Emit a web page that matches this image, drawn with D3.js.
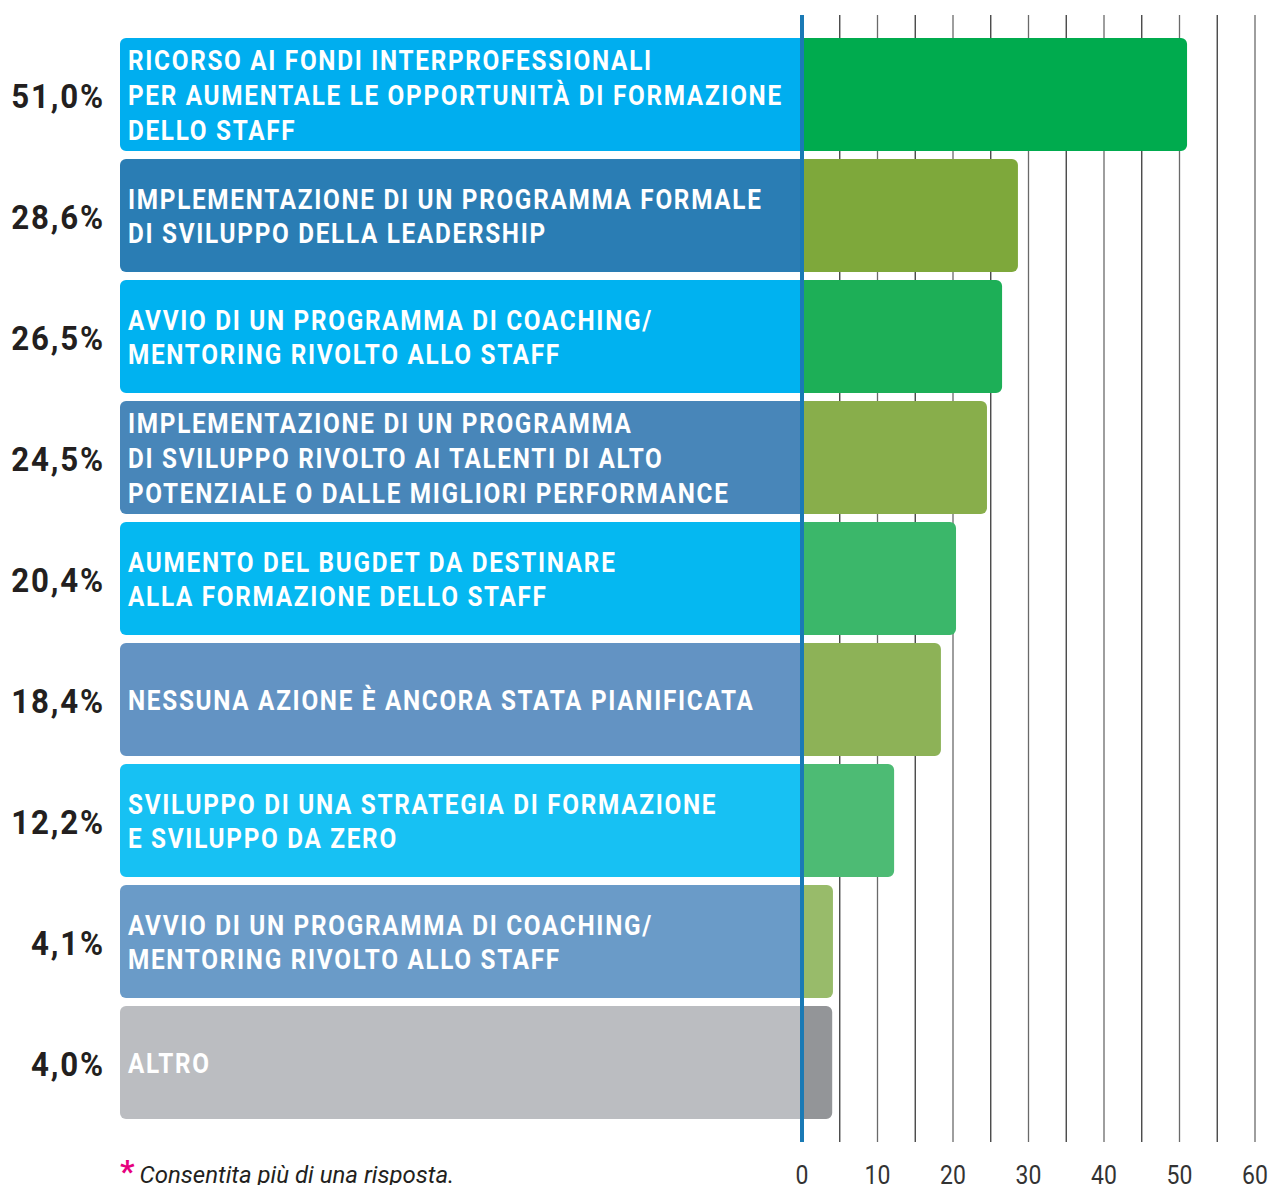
<!DOCTYPE html>
<html>
<head>
<meta charset="utf-8">
<script src="https://cdn.jsdelivr.net/npm/d3@7"></script>
<style>
  html, body { margin: 0; padding: 0; background: #fff; }
  svg { display: block; }
</style>
</head>
<body>
<svg id="chart" width="1268" height="1185"></svg>
<script>
const categories = [
  ['RICORSO AI FONDI INTERPROFESSIONALI', 'PER AUMENTALE LE OPPORTUNITÀ DI FORMAZIONE', 'DELLO STAFF'],
  ['IMPLEMENTAZIONE DI UN PROGRAMMA FORMALE', 'DI SVILUPPO DELLA LEADERSHIP'],
  ['AVVIO DI UN PROGRAMMA DI COACHING/', 'MENTORING RIVOLTO ALLO STAFF'],
  ['IMPLEMENTAZIONE DI UN PROGRAMMA', 'DI SVILUPPO RIVOLTO AI TALENTI DI ALTO', 'POTENZIALE O DALLE MIGLIORI PERFORMANCE'],
  ['AUMENTO DEL BUGDET DA DESTINARE', 'ALLA FORMAZIONE DELLO STAFF'],
  ['NESSUNA AZIONE È ANCORA STATA PIANIFICATA'],
  ['SVILUPPO DI UNA STRATEGIA DI FORMAZIONE', 'E SVILUPPO DA ZERO'],
  ['AVVIO DI UN PROGRAMMA DI COACHING/', 'MENTORING RIVOLTO ALLO STAFF'],
  ['ALTRO']
];
const values = [51.0, 28.6, 26.5, 24.5, 20.4, 18.4, 12.2, 4.1, 4.0];
const boxColors = ['#00aeef', '#2a7db4', '#00b2f0', '#4886b9', '#05b8f1', '#6393c3', '#17c1f3', '#6a9bc8', '#bbbdc1'];
const barColors = ['#00ab4e', '#7ea83b', '#1daf57', '#88ae4b', '#3bb76a', '#8db257', '#4dbb74', '#98bb6a', '#939598'];
const xTicks = [0, 10, 20, 30, 40, 50, 60];
const gridTicks = d3.range(5, 61, 5);
const note = 'Consentita più di una risposta.';

const FONT = 'Roboto, "Noto Sans", sans-serif';
const BOX_LEFT = 120;
const RADIUS = 6;

const svg = d3.select('#chart');

const x = d3.scaleLinear().domain([0, 60]).range([802, 1255]);
const y = d3.scaleBand()
  .domain(d3.range(values.length))
  .range([34, 1123])
  .paddingInner(0.066)
  .paddingOuter(0.033);

// gridlines
svg.append('g')
  .selectAll('line')
  .data(gridTicks)
  .join('line')
  .attr('x1', d => x(d)).attr('x2', d => x(d))
  .attr('y1', 15).attr('y2', 1142)
  .attr('stroke', (d, i) => i % 2 === 0 ? '#3a3a3a' : '#6a6a6a')
  .attr('stroke-width', 1.3);

// rounded on one side only
function leftRounded(x0, y0, w, h, r) {
  const p = d3.path();
  p.moveTo(x0 + w, y0);
  p.lineTo(x0 + r, y0);
  p.arcTo(x0, y0, x0, y0 + r, r);
  p.lineTo(x0, y0 + h - r);
  p.arcTo(x0, y0 + h, x0 + r, y0 + h, r);
  p.lineTo(x0 + w, y0 + h);
  p.closePath();
  return p.toString();
}
function rightRounded(x0, y0, w, h, r) {
  const rr = Math.min(r, w);
  const p = d3.path();
  p.moveTo(x0, y0);
  p.lineTo(x0 + w - rr, y0);
  p.arcTo(x0 + w, y0, x0 + w, y0 + rr, rr);
  p.lineTo(x0 + w, y0 + h - rr);
  p.arcTo(x0 + w, y0 + h, x0 + w - rr, y0 + h, rr);
  p.lineTo(x0, y0 + h);
  p.closePath();
  return p.toString();
}

const rows = svg.append('g')
  .selectAll('g.row')
  .data(values.map((v, i) => ({ v, i, lines: categories[i] })))
  .join('g')
  .attr('class', 'row');

rows.append('path')
  .attr('d', d => leftRounded(BOX_LEFT, y(d.i), x(0) - BOX_LEFT + 1, y.bandwidth(), RADIUS))
  .attr('fill', d => boxColors[d.i]);

rows.append('path')
  .attr('d', d => rightRounded(x(0), y(d.i), x(d.v) - x(0), y.bandwidth(), RADIUS))
  .attr('fill', d => barColors[d.i]);

const LINE_H = 34.7;
rows.each(function(d) {
  const g = d3.select(this);
  const cy = y(d.i) + y.bandwidth() / 2 + 1;
  const n = d.lines.length;
  const t = g.append('text')
    .attr('transform', `translate(128,${cy}) scale(0.9,1)`)
    .attr('fill', '#fff')
    .attr('font-family', FONT)
    .attr('font-weight', 700)
    .attr('font-size', 27)
    .attr('letter-spacing', 1.9);
  d.lines.forEach((line, k) => {
    t.append('tspan')
      .attr('x', 0)
      .attr('y', (k - (n - 1) / 2) * LINE_H)
      .attr('dy', '0.35em')
      .text(line);
  });

  g.append('text')
    .attr('transform', `translate(105,${cy}) scale(0.92,1)`)
    .attr('text-anchor', 'end')
    .attr('dy', '0.36em')
    .attr('fill', '#231f20')
    .attr('font-family', FONT)
    .attr('font-weight', 700)
    .attr('font-size', 34)
    .attr('letter-spacing', 2)
    .text(d3.format('.1f')(d.v).replace('.', ',') + '%');
});

// zero line
svg.append('line')
  .attr('x1', x(0)).attr('x2', x(0))
  .attr('y1', 15).attr('y2', 1142)
  .attr('stroke', '#1a7ab5')
  .attr('stroke-width', 4);

// axis labels
svg.append('g')
  .selectAll('text')
  .data(xTicks)
  .join('text')
  .attr('transform', d => `translate(${x(d)},1184) scale(0.92,1)`)
  .attr('text-anchor', 'middle')
  .attr('fill', '#333')
  .attr('font-family', FONT)
  .attr('font-size', 25)
  .text(d => d);

// footnote
const foot = svg.append('text')
  .attr('x', BOX_LEFT)
  .attr('y', 1183)
  .attr('font-family', FONT)
  .attr('font-size', 24);
foot.append('tspan')
  .attr('fill', '#e6007e')
  .attr('font-size', 32)
  .attr('font-weight', 700)
  .attr('dy', -1)
  .text('*');
foot.append('tspan')
  .attr('dx', 5)
  .attr('dy', 1)
  .attr('fill', '#231f20')
  .attr('font-style', 'italic')
  .text(note);
</script>
</body>
</html>
